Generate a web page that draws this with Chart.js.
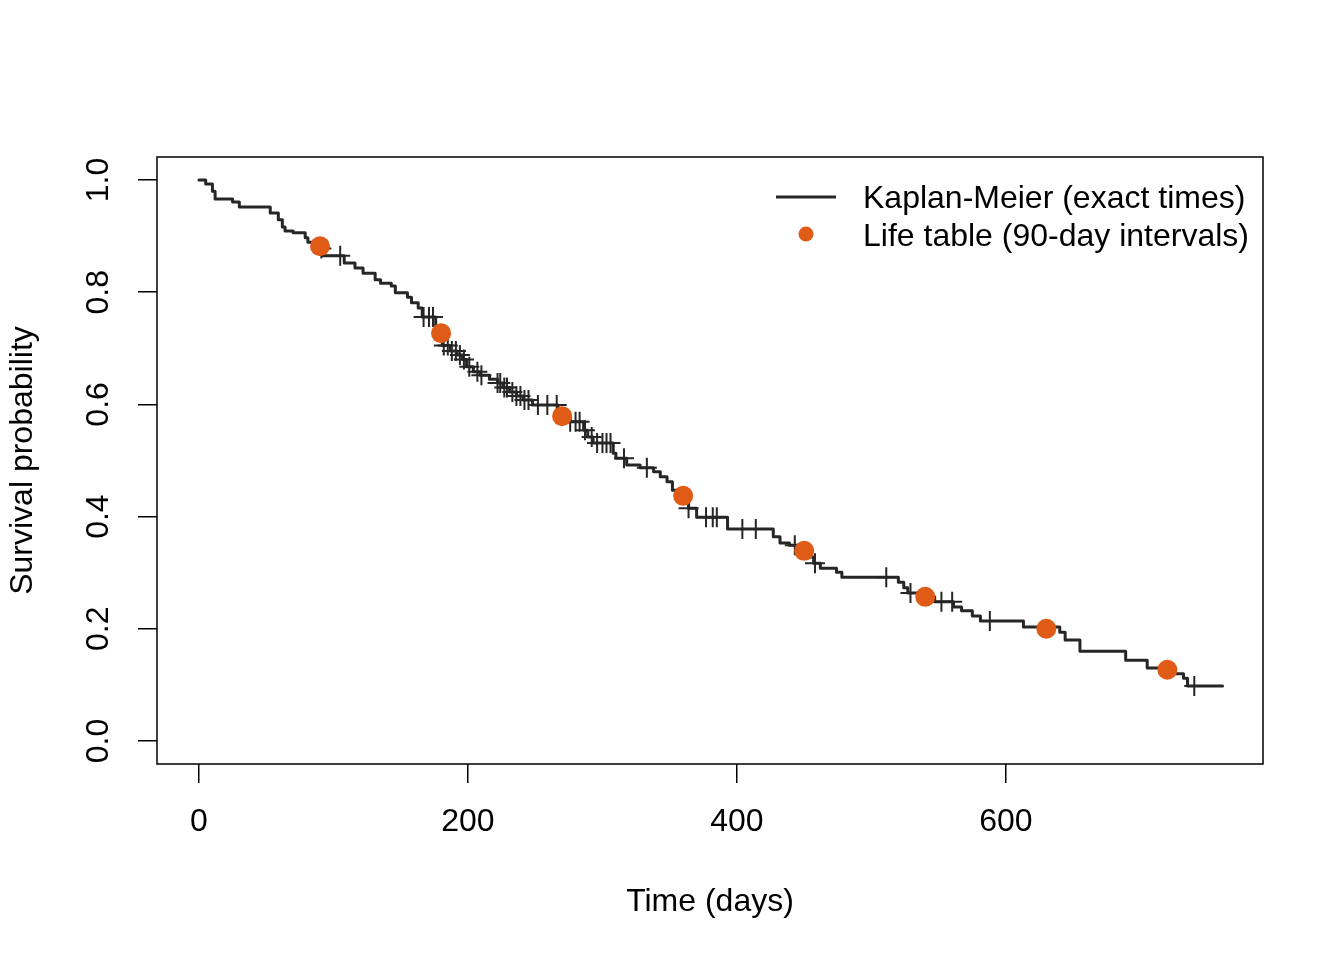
<!DOCTYPE html>
<html><head><meta charset="utf-8">
<script src="https://cdn.jsdelivr.net/npm/chart.js@4/dist/chart.umd.min.js"></script>
<style>html,body{margin:0;padding:0;background:#fff}canvas{display:block}</style>
</head><body>
<canvas id="c" width="1344" height="960"></canvas>
<script>
// ---- Data ----
const kmTimes = [0,5,10,12,25,30,53,59,62,64,70,79,81,87,92,108,116,122,131,135,143,146,155,158,163,166,176,178,181,187,192,196,199,204,209,216,222,226,231,236,241,248,267,272,276,286,289,293,308,310,318,328,338,343,348,352,356,361,364,370,393,427,432,439,447,454,457,462,474,478,520,524,527,536,547,561,567,575,581,613,640,644,655,689,705,726,732,735,761];
const kmSurv  = [1.000,0.993,0.980,0.966,0.961,0.952,0.941,0.929,0.916,0.909,0.906,0.897,0.889,0.878,0.865,0.852,0.843,0.834,0.822,0.816,0.811,0.799,0.791,0.781,0.772,0.756,0.740,0.720,0.705,0.695,0.688,0.680,0.667,0.658,0.652,0.645,0.638,0.630,0.622,0.615,0.608,0.599,0.585,0.578,0.569,0.554,0.542,0.531,0.513,0.504,0.492,0.487,0.480,0.471,0.462,0.447,0.440,0.430,0.415,0.399,0.378,0.364,0.353,0.349,0.339,0.328,0.317,0.308,0.301,0.292,0.283,0.273,0.264,0.257,0.248,0.239,0.232,0.223,0.214,0.203,0.194,0.180,0.160,0.144,0.130,0.120,0.112,0.098,0.098];
const censorTimes = [91,105,167,171,174,182,185,188,191,194,197,201,207,210,222,224,227,229,233,236,239,242,245,252,259,266,276,280,283,287,292,296,300,303,306,316,333,364,377,382,385,404,414,443,458,511,529,552,560,588,740];
const censorSurv  = [0.878,0.865,0.756,0.756,0.756,0.705,0.705,0.695,0.695,0.688,0.680,0.667,0.658,0.652,0.638,0.638,0.630,0.630,0.622,0.615,0.615,0.608,0.608,0.599,0.599,0.599,0.569,0.569,0.569,0.554,0.542,0.531,0.531,0.531,0.531,0.504,0.487,0.415,0.399,0.399,0.399,0.378,0.378,0.349,0.317,0.292,0.264,0.248,0.248,0.214,0.098];
const lifeTableTimes = [90,180,270,360,450,540,630,720];
const lifeTableSurv  = [0.882,0.727,0.579,0.437,0.339,0.257,0.200,0.127];
const xTicks = [0,200,400,600];
const yTicks = [0.0,0.2,0.4,0.6,0.8,1.0];
const seriesLabels = ['Kaplan-Meier (exact times)','Life table (90-day intervals)'];
const xTitle = 'Time (days)';
const yTitle = 'Survival probability';

// ---- Styles ----
const FONT = '"Liberation Sans", Arial, Helvetica, sans-serif';
const KM_COLOR = '#262626';
const LT_COLOR = '#E05C16';

const toXY = (xs, ys) => xs.map((x, i) => ({x, y: ys[i]}));

const boxPlugin = {
  id: 'rBox',
  afterDraw(chart) {
    const {ctx, chartArea: a} = chart;
    ctx.save();
    ctx.strokeStyle = '#000';
    ctx.lineWidth = 1.5;
    ctx.strokeRect(Math.round(a.left), Math.round(a.top), Math.round(a.right - a.left), Math.round(a.bottom - a.top));
    // legend (R style, no box)
    const lx = a.right - 487, ly1 = a.top + 40, ly2 = a.top + 77;
    ctx.strokeStyle = KM_COLOR;
    ctx.lineWidth = 3;
    ctx.beginPath(); ctx.moveTo(lx, ly1); ctx.lineTo(lx + 60, ly1); ctx.stroke();
    ctx.fillStyle = LT_COLOR;
    ctx.beginPath(); ctx.arc(lx + 30, ly2, 7.5, 0, Math.PI * 2); ctx.fill();
    ctx.fillStyle = '#000';
    ctx.font = '32px ' + FONT;
    ctx.textAlign = 'left';
    ctx.textBaseline = 'middle';
    ctx.fillText(seriesLabels[0], lx + 87, ly1 + 2);
    ctx.fillText(seriesLabels[1], lx + 87, ly2 + 3);
    ctx.restore();
  }
};

new Chart(document.getElementById('c'), {
  type: 'scatter',
  data: {
    datasets: [
      {
        label: seriesLabels[1],
        data: toXY(lifeTableTimes, lifeTableSurv),
        pointRadius: 10,
        pointBackgroundColor: LT_COLOR,
        pointBorderColor: LT_COLOR,
        pointBorderWidth: 0,
        showLine: false,
        order: 0
      },
      {
        label: 'censored',
        data: toXY(censorTimes, censorSurv),
        pointStyle: 'cross',
        pointRadius: 10,
        pointBorderColor: KM_COLOR,
        pointBorderWidth: 2,
        showLine: false,
        order: 1
      },
      {
        label: seriesLabels[0],
        data: toXY(kmTimes, kmSurv),
        showLine: true,
        stepped: true,
        borderColor: KM_COLOR,
        borderWidth: 3,
        borderJoinStyle: 'round',
        borderCapStyle: 'round',
        pointRadius: 0,
        fill: false,
        order: 2
      }
    ]
  },
  options: {
    responsive: false,
    animation: false,
    devicePixelRatio: 1,
    layout: {padding: {top: 157, right: 81, left: 0, bottom: 0}},
    plugins: {legend: {display: false}, tooltip: {enabled: false}},
    scales: {
      x: {
        type: 'linear',
        position: 'bottom',
        min: -31.2, max: 791.1,
        afterBuildTicks: s => { s.ticks = xTicks.map(v => ({value: v})); },
        afterFit: s => { s.height = 196; },
        border: {display: false},
        grid: {drawOnChartArea: false, drawTicks: true, tickLength: 19, color: '#000', lineWidth: 1.5},
        ticks: {color: '#000', font: {family: FONT, size: 32}, padding: 20, maxRotation: 0, autoSkip: false,
                callback: v => String(v)},
        title: {display: true, text: xTitle, color: '#000', font: {family: FONT, size: 32}, padding: {top: 0, bottom: 39}}
      },
      y: {
        type: 'linear',
        position: 'left',
        min: -0.041, max: 1.041,
        afterBuildTicks: s => { s.ticks = yTicks.map(v => ({value: v})); },
        afterFit: s => { s.width = 157; },
        border: {display: false},
        grid: {drawOnChartArea: false, drawTicks: true, tickLength: 19, color: '#000', lineWidth: 1.5},
        ticks: {color: '#000', font: {family: FONT, size: 32}, padding: 17, minRotation: 90, maxRotation: 90,
                crossAlign: 'center', autoSkip: false, callback: v => Number(v).toFixed(1)},
        title: {display: true, text: yTitle, color: '#000', font: {family: FONT, size: 32}, padding: {top: 4, bottom: 0}}
      }
    }
  },
  plugins: [boxPlugin]
});
</script>
</body></html>
